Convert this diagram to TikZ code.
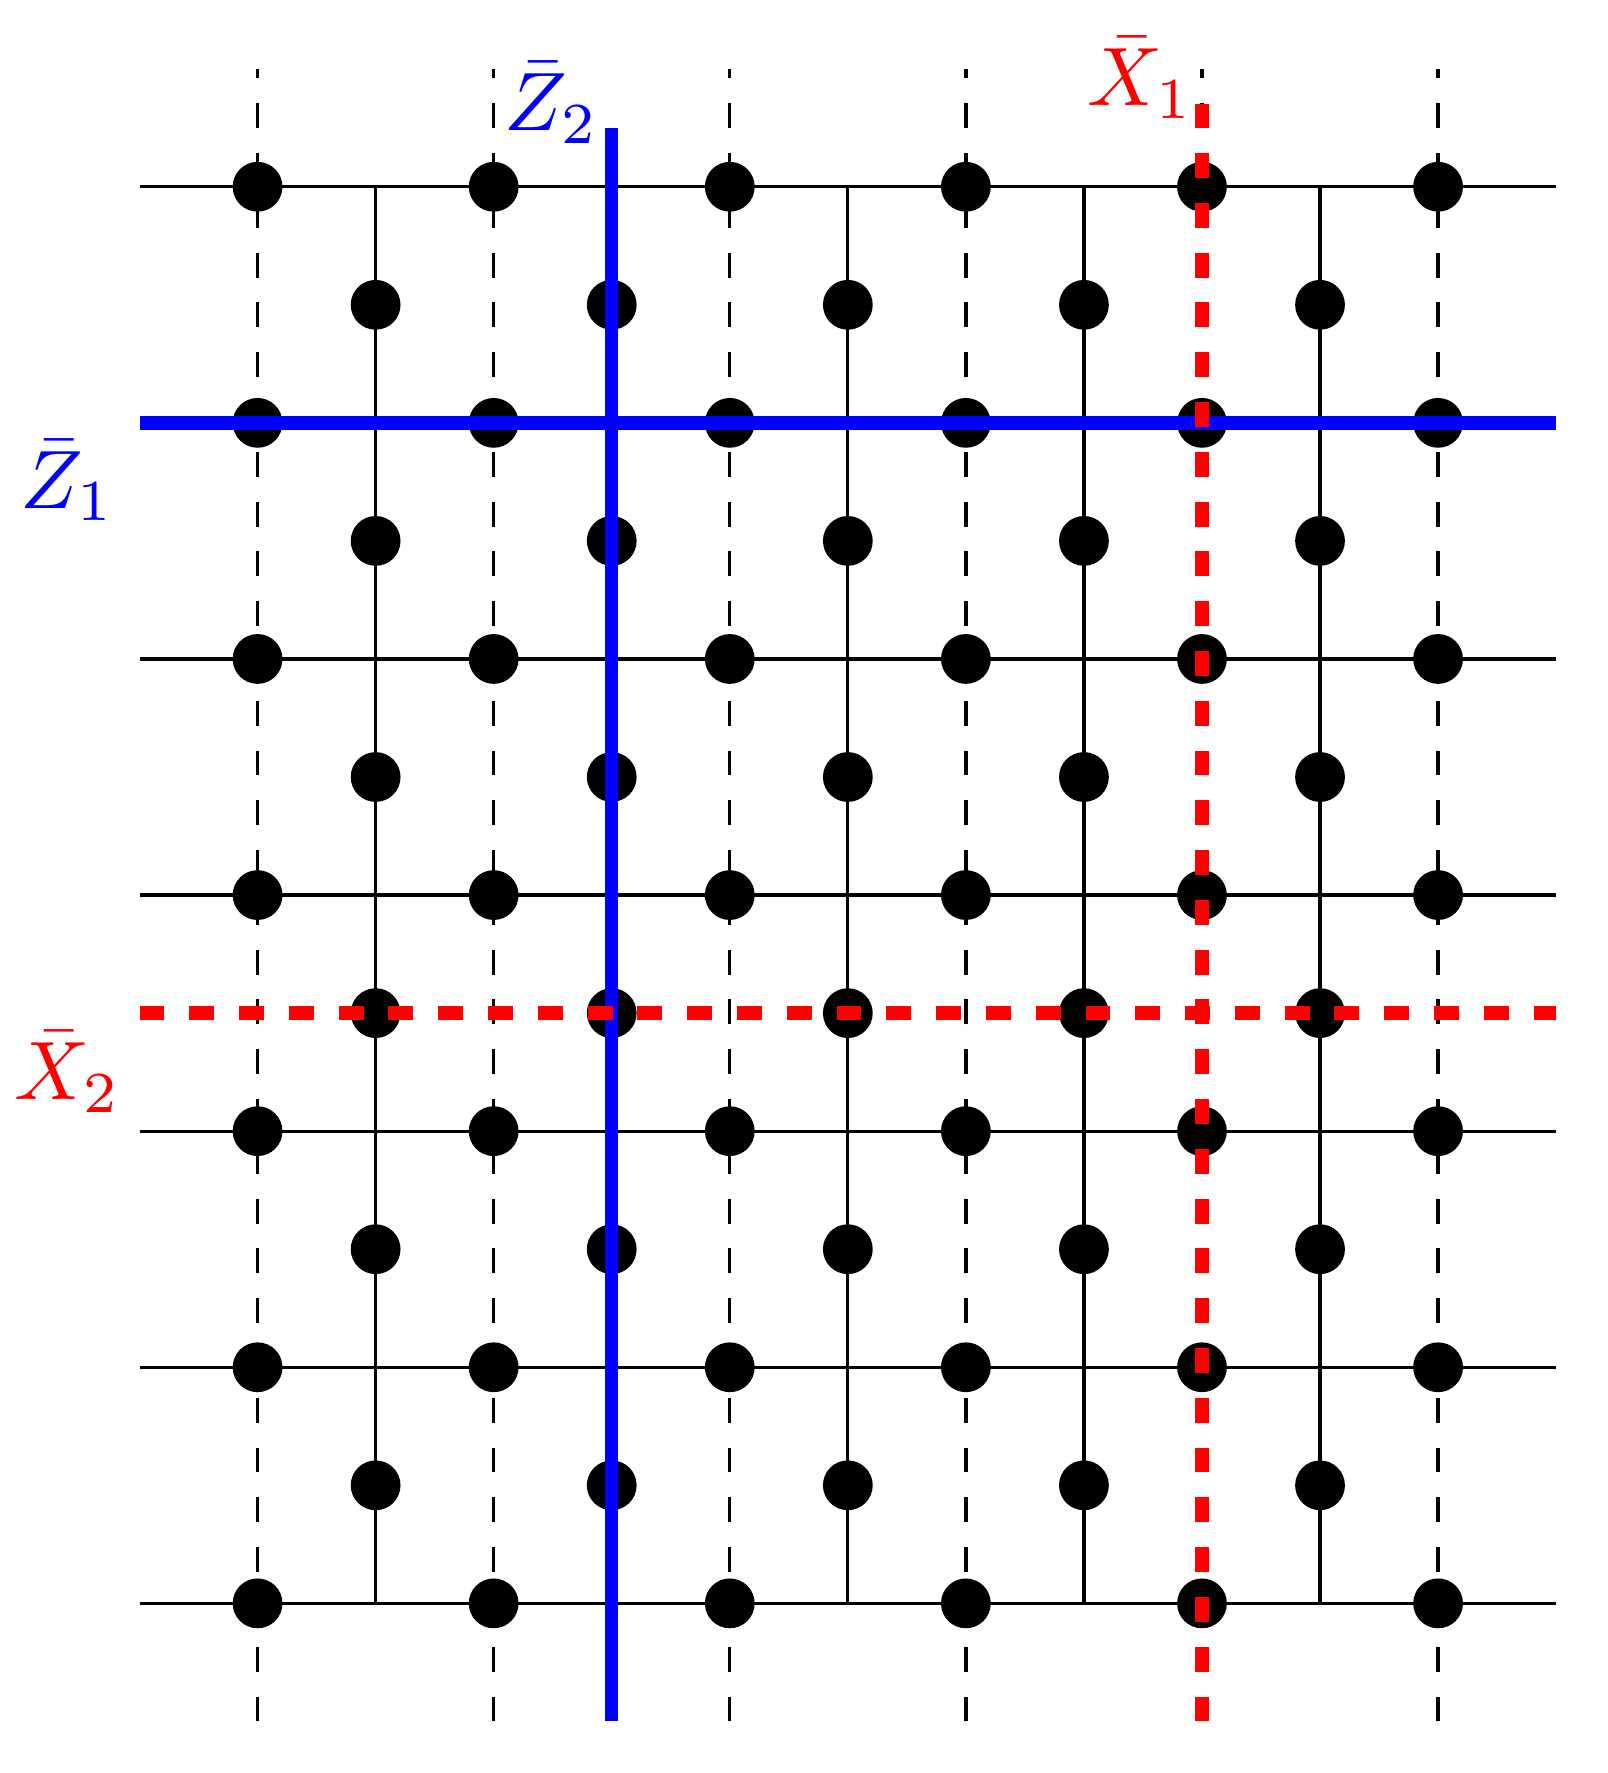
\documentclass[tikz,border=0pt]{standalone}
\usepackage{amsmath}
\usepackage{amssymb}
\usepackage{tikz}
\usetikzlibrary{positioning}

\begin{document}
\begin{tikzpicture}[
	x=0.5cm, y=0.5cm,
	font=\normalsize
	]
\tikzset{
	lattice/.style = { black, line width=0.4pt },
	gauge/.style = { black, dashed, line width=0.4pt },
	qubit/.style = { circle, fill=black, draw=none, inner sep=0pt, minimum size=6pt },
	logicalZ/.style = { blue, ultra thick },
	logicalX/.style = { red, ultra thick, dashed },
	labelZ/.style = { text=blue, inner sep=0pt },
	labelX/.style = { text=red, inner sep=0pt }
}
	\useasboundingbox (-2.182,-1.437) rectangle (11.439,13.582);

	% horizontal lines
	\foreach \y in {0,2,...,12} {
		\draw [lattice] (-1,\y) -- (11,\y);
	}
	% dashed columns
	\foreach \x in {0,2,...,10} {
		\draw [gauge] (\x,-1) -- (\x,13);
	}
	% solid columns
	\foreach \x in {1,3,...,9} {
		\draw [lattice] (\x,0) -- (\x,12);
	}

	% qubits
	\foreach \x in {0,2,...,10} {
		\foreach \y in {0,2,...,12} {
			\node (q-\x-\y) [qubit] at (\x,\y) {};
		}
	}
	\foreach \x in {1,3,...,9} {
		\foreach \y in {1,3,...,11} {
			\node (q-\x-\y) [qubit] at (\x,\y) {};
		}
	}

	% logical operators
	\draw [logicalZ] (-1,10) -- (11,10);
	\draw [logicalZ] (3,-1) -- (3,12.5);
	\draw [logicalX] (-1,5) -- (11,5);
	\draw [logicalX] (8,-1) -- (8,12.7);

	% labels
	\node (zBarOne) [labelZ] at (-1.61,9.51) {$\bar{Z}_1$};
	\node (zBarTwo) [labelZ] at (2.49,12.71) {$\bar{Z}_2$};
	\node (xBarOne) [labelX] at (7.48,12.92) {$\bar{X}_1$};
	\node (xBarTwo) [labelX] at (-1.61,4.50) {$\bar{X}_2$};
\end{tikzpicture}
\end{document}
